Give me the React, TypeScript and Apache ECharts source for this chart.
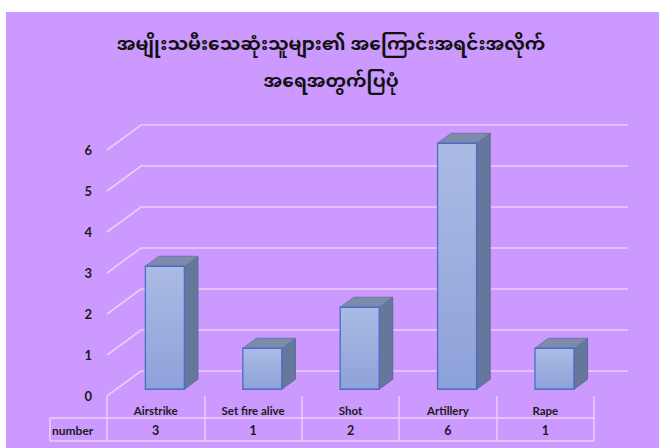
import React, { useEffect, useRef } from "react";
import * as echarts from "echarts";

const titleLines = ["အမျိုးသမီးသေဆုံးသူများ၏ အကြောင်းအရင်းအလိုက်", "အရေအတွက်ပြပုံ"];
const categories = ["Airstrike", "Set fire alive", "Shot", "Artillery", "Rape"];
const values = [3, 1, 2, 6, 1];
const yTicks = [0, 1, 2, 3, 4, 5, 6];
const rowLabel = "number";

const DX = 34;
const DY = -25;
const BG = "#CC99FF";
const GRID_COLOR = "#E8D0FB";
const FONT = "Lato, 'Noto Sans', sans-serif";
const MY_FONT = "'Noto Sans Myanmar', 'Padauk', 'Myanmar Text', 'Noto Sans', sans-serif";

export default function App() {
  const ref = useRef<HTMLDivElement>(null);
  useEffect(() => {
    if (!ref.current) return;
    const chart = echarts.init(ref.current, undefined, { renderer: "svg" });
    const titleStyle = { fontFamily: MY_FONT, fontSize: 18.5, fontWeight: "bold", fill: "#111111", align: "center", verticalAlign: "middle" };
    const option: any = {
      animation: false,
      backgroundColor: "#ffffff",
      grid: { left: 107, right: 65, top: 150, bottom: 52 },
      xAxis: [
        {
          type: "category",
          data: categories,
          axisLine: { show: false },
          axisTick: { show: true, interval: 0, length: 45, lineStyle: { color: GRID_COLOR, width: 1.5 } },
          axisLabel: { interval: 0, margin: 8, fontFamily: FONT, fontWeight: "bold", fontSize: 11.5, color: "#1a1a1a" },
          splitLine: { show: false },
        },
        {
          type: "category",
          position: "bottom",
          offset: 20,
          data: values.map((v) => String(v)),
          axisLine: { show: false },
          axisTick: { show: false },
          axisLabel: { interval: 0, margin: 8, fontFamily: FONT, fontWeight: "bold", fontSize: 12.5, color: "#1a1a1a" },
        },
      ],
      yAxis: {
        type: "value",
        min: 0,
        max: 6,
        interval: 1,
        axisLine: { show: false },
        axisTick: { show: false },
        splitLine: { show: false },
        axisLabel: { margin: 15, fontFamily: FONT, fontWeight: "bold", fontSize: 13, color: "#1a1a1a" },
      },
      graphic: [
        { type: "rect", z: -100, shape: { x: 6, y: 12, width: 653, height: 436 }, style: { fill: BG } },
        { type: "text", x: 331, y: 46, style: { ...titleStyle, text: titleLines[0] } },
        { type: "text", x: 331, y: 83, style: { ...titleStyle, text: titleLines[1] } },
        { type: "line", shape: { x1: 50, y1: 418, x2: 594, y2: 418 }, style: { stroke: GRID_COLOR, lineWidth: 1.5 } },
        { type: "line", shape: { x1: 50, y1: 441, x2: 594, y2: 441 }, style: { stroke: GRID_COLOR, lineWidth: 1.5 } },
        { type: "line", shape: { x1: 50, y1: 418, x2: 50, y2: 441 }, style: { stroke: GRID_COLOR, lineWidth: 1.5 } },
        {
          type: "text",
          x: 52,
          y: 430,
          style: { text: rowLabel, fontFamily: FONT, fontWeight: "bold", fontSize: 12, fill: "#1a1a1a", verticalAlign: "middle" },
        },
      ],
      series: [
        {
          type: "custom",
          clip: false,
          silent: true,
          data: yTicks.map((v) => [0, v]),
          renderItem: (params: any, api: any) => {
            const cs = params.coordSys;
            const y = api.coord([0, api.value(1)])[1];
            const left = cs.x;
            const right = cs.x + cs.width;
            return {
              type: "polyline",
              shape: { points: [[left, y], [left + DX, y + DY], [right + DX, y + DY]] },
              style: { stroke: GRID_COLOR, lineWidth: 1.6, fill: "none" },
            };
          },
        },
        {
          type: "custom",
          clip: false,
          data: values.map((v, i) => [i, v]),
          renderItem: (params: any, api: any) => {
            const i = api.value(0);
            const v = api.value(1);
            const top = api.coord([i, v]);
            const bot = api.coord([i, 0]);
            const W = 39;
            const f1 = 0.27;
            const f2 = 0.4;
            const x0 = top[0] - W / 2 + f1 * DX;
            const x1 = x0 + W;
            const yt = top[1] + f1 * DY;
            const yb = bot[1] + f1 * DY;
            const dX = f2 * DX;
            const dY = f2 * DY;
            return {
              type: "group",
              children: [
                {
                  type: "polygon",
                  shape: { points: [[x1, yt], [x1 + dX, yt + dY], [x1 + dX, yb + dY], [x1, yb]] },
                  style: { fill: "#66779C", stroke: "#5B6C98", lineWidth: 1 },
                },
                {
                  type: "polygon",
                  shape: { points: [[x0, yt], [x0 + dX, yt + dY], [x1 + dX, yt + dY], [x1, yt]] },
                  style: { fill: "#7D8BAD", stroke: "#6A78A0", lineWidth: 1 },
                },
                {
                  type: "rect",
                  shape: { x: x0, y: yt, width: W, height: yb - yt },
                  style: {
                    fill: new echarts.graphic.LinearGradient(0, 0, 0, 1, [
                      { offset: 0, color: "#AABBE4" },
                      { offset: 1, color: "#8DA2DA" },
                    ]),
                    stroke: "#4E6BC8",
                    lineWidth: 1.3,
                  },
                },
              ],
            };
          },
        },
      ],
    };
    chart.setOption(option);
    return () => chart.dispose();
  }, []);
  return <div ref={ref} style={{ position: "fixed", left: 0, top: 0, width: 659, height: 448 }} />;
}
